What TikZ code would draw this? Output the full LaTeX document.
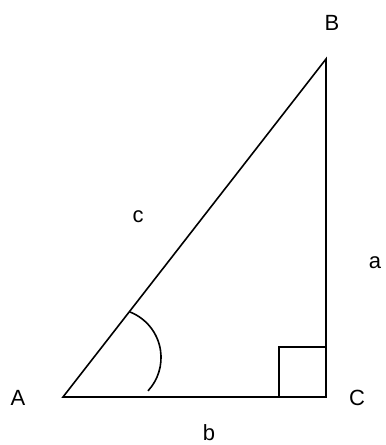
\documentclass[tikz,border=0pt]{standalone}
\usepackage{fontspec}
\setmainfont{Liberation Sans}
\usetikzlibrary{positioning}

\begin{document}
\begin{tikzpicture}[x=1pt, y=1pt, line width=1.6pt,
    vertex/.style={inner sep=0pt},
    lbl/.style={font=\fontsize{22}{26}\selectfont, inner sep=0pt}]
    \useasboundingbox (0,0) rectangle (386,445);

    % Vertices
    \coordinate (A) at (63, 48);
    \coordinate (C) at (326, 48);
    \coordinate (B) at (326, 386);

    % Vertex labels
    \node[lbl] (lA) at (18, 47) {A};
    \node[lbl] (lB) at (332, 422) {B};
    \node[lbl] (lC) at (357, 47) {C};

    % Side labels
    \node[lbl] (la) at (375, 182) {a};
    \node[lbl] (lb) at (209, 12) {b};
    \node[lbl] (lc) at (138, 228) {c};

    % Triangle
    \draw (A) -- (C) -- (B) -- cycle;

    % Right angle at C
    \draw (C) ++(-47, 0) -- ++(0, 50) -- ++(47, 0);

    % Angle at A
    \draw (130, 133.0) arc[start angle=68.5, end angle=-42.8, radius=49];
\end{tikzpicture}
\end{document}
